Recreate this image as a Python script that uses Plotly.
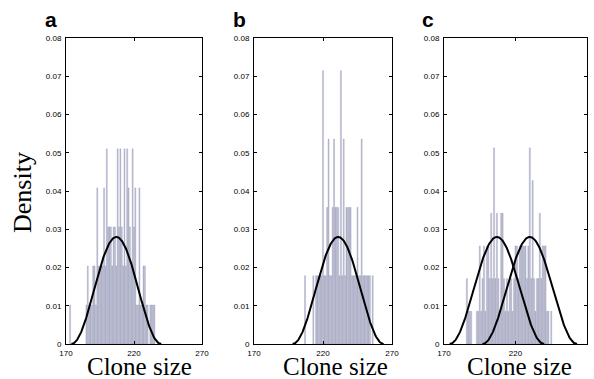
import numpy as np
import plotly.graph_objects as go

W, H = 594, 379

# ---------------- data ----------------
sizes_a = [173, 185, 186, 187, 188, 189, 190, 191, 192, 193, 194, 195, 196, 197, 198, 199,
           200, 201, 202, 203, 204, 205, 206, 207, 208, 209, 210, 211, 212, 213, 214, 215,
           216, 217, 218, 219, 220, 221, 222, 223, 224, 225, 226, 227, 228, 229, 230, 232,
           233, 234, 235]
counts_a = [1, 1, 2, 1, 1, 1, 2, 2, 1, 4, 2, 2, 2, 2, 4, 2,
            5, 3, 3, 3, 2, 3, 3, 2, 5, 3, 5, 3, 2, 5, 2, 5,
            4, 3, 2, 5, 3, 4, 1, 1, 4, 1, 1, 2, 2, 1, 1, 1,
            1, 1, 1]
n_a = 98

sizes_b = [207, 213, 215, 216, 217, 218, 219, 220, 221, 222, 223, 224, 225, 226, 227, 228,
           229, 230, 231, 232, 233, 234, 235, 236, 237, 238, 239, 240, 241, 242, 243, 244,
           245, 246, 247, 248, 249, 250, 251, 252, 253, 254, 256]
counts_b = [1, 1, 1, 1, 1, 1, 1, 4, 1, 1, 2, 3, 1, 1, 2, 3,
            2, 2, 2, 1, 4, 1, 3, 1, 2, 2, 2, 2, 1, 1, 1, 1,
            2, 1, 1, 3, 1, 1, 1, 1, 1, 1, 1]
n_b = 56

sizes_c = [186, 187, 188, 189, 193, 194, 195, 196, 197, 198, 199, 200, 201, 202, 203, 204,
           205, 206, 207, 208, 209, 210, 211, 212, 213, 214, 215, 216, 217, 218, 219, 220,
           221, 222, 223, 224, 225, 226, 227, 228, 229, 230, 231, 232, 233, 234, 235, 236,
           237, 238, 239, 240, 241, 242, 243, 245]
counts_c = [2, 1, 1, 1, 1, 1, 3, 1, 2, 3, 1, 3, 3, 2, 4, 2,
            6, 2, 4, 2, 1, 4, 4, 2, 1, 2, 1, 2, 2, 1, 2, 3,
            3, 2, 3, 3, 3, 3, 3, 2, 3, 6, 2, 5, 2, 1, 2, 2,
            4, 2, 3, 3, 3, 1, 1, 1]
n_c = 117

# fitted density curves: (centre, half-width, peak)
fit_a = [(207.0, 33, 0.028)]
fit_b = [(231.0, 33, 0.028)]
fit_c = [(207.0, 33, 0.028), (230.0, 33, 0.028)]

x_ticks = [170, 220, 270]
x_ticklabels = ["170", "220", "270"]
y_ticks = [0, 0.01, 0.02, 0.03, 0.04, 0.05, 0.06, 0.07, 0.08]
y_ticklabels = ["0", "0.01", "0.02", "0.03", "0.04", "0.05", "0.06", "0.07", "0.08"]
panel_labels = ["a", "b", "c"]
x_title = "Clone size"
y_title = "Density"

# ---------------- layout geometry (pixels) ----------------
panels_px = [(66, 202), (254, 392), (444, 587)]
top_px, bot_px = 38, 344

fig = go.Figure()

panels = [(sizes_a, counts_a, n_a, fit_a),
          (sizes_b, counts_b, n_b, fit_b),
          (sizes_c, counts_c, n_c, fit_c)]

for i, (sz, ct, n, fits) in enumerate(panels):
    sfx = "" if i == 0 else str(i + 1)
    dens = [c / n for c in ct]
    fig.add_trace(go.Bar(
        x=sz, y=dens, width=0.8,
        marker=dict(color="rgb(198,198,200)",
                    line=dict(color="rgba(85,95,180,0.4)", width=0.5)),
        xaxis="x" + sfx, yaxis="y" + sfx, showlegend=False, hoverinfo="skip"))
    for (mu, hw, pk) in fits:
        xs = np.linspace(mu - hw, mu + hw, 200)
        ys = pk * (1 + np.cos(np.pi * (xs - mu) / hw)) / 2
        fig.add_trace(go.Scatter(
            x=xs, y=ys, mode="lines", line=dict(color="black", width=2),
            xaxis="x" + sfx, yaxis="y" + sfx, showlegend=False, hoverinfo="skip"))

axis_common = dict(showgrid=False, zeroline=False, showline=True, linecolor="black",
                   linewidth=1, mirror="ticks", ticks="inside", ticklen=3,
                   tickcolor="black", tickwidth=1, automargin=False,
                   tickfont=dict(family="Liberation Sans, Arial", size=8, color="black"))

layout = dict(width=W, height=H, margin=dict(l=0, r=0, t=0, b=0, autoexpand=False),
              plot_bgcolor="white", paper_bgcolor="white", bargap=0.1)

for i, (x0, x1) in enumerate(panels_px):
    sfx = "" if i == 0 else str(i + 1)
    layout["xaxis" + sfx] = dict(axis_common, domain=[x0 / W, x1 / W], range=[170, 270],
                                 tickvals=x_ticks, ticktext=x_ticklabels,
                                 anchor="y" + sfx, ticklabelstandoff=1)
    layout["yaxis" + sfx] = dict(axis_common, domain=[1 - bot_px / H, 1 - top_px / H],
                                 range=[0, 0.08], tickvals=y_ticks, ticktext=y_ticklabels,
                                 anchor="x" + sfx, ticklabelstandoff=2)

fig.update_layout(**layout)

annotations = []
label_x = [51, 239.5, 427.5]
for i, lab in enumerate(panel_labels):
    annotations.append(dict(text="<b>" + lab + "</b>", x=label_x[i] / W, y=1 - 19 / H,
                            xref="paper", yref="paper", showarrow=False,
                            xanchor="center", yanchor="middle",
                            font=dict(family="Liberation Sans, Arial", size=21, color="black")))
title_x = [139.5, 335, 519]
for i in range(3):
    annotations.append(dict(text=x_title, x=title_x[i] / W, y=1 - 366 / H,
                            xref="paper", yref="paper", showarrow=False,
                            xanchor="center", yanchor="middle",
                            font=dict(family="Liberation Serif, Times New Roman", size=25,
                                      color="black")))
annotations.append(dict(text=y_title, x=22 / W, y=1 - 193 / H, xref="paper", yref="paper",
                        showarrow=False, textangle=-90, xanchor="center", yanchor="middle",
                        font=dict(family="Liberation Serif, Times New Roman", size=26,
                                  color="black")))
fig.update_layout(annotations=annotations)

fig.write_html("out.html", config={"displayModeBar": False},
               post_script="document.body.style.margin='0';document.body.style.overflow='hidden';")
